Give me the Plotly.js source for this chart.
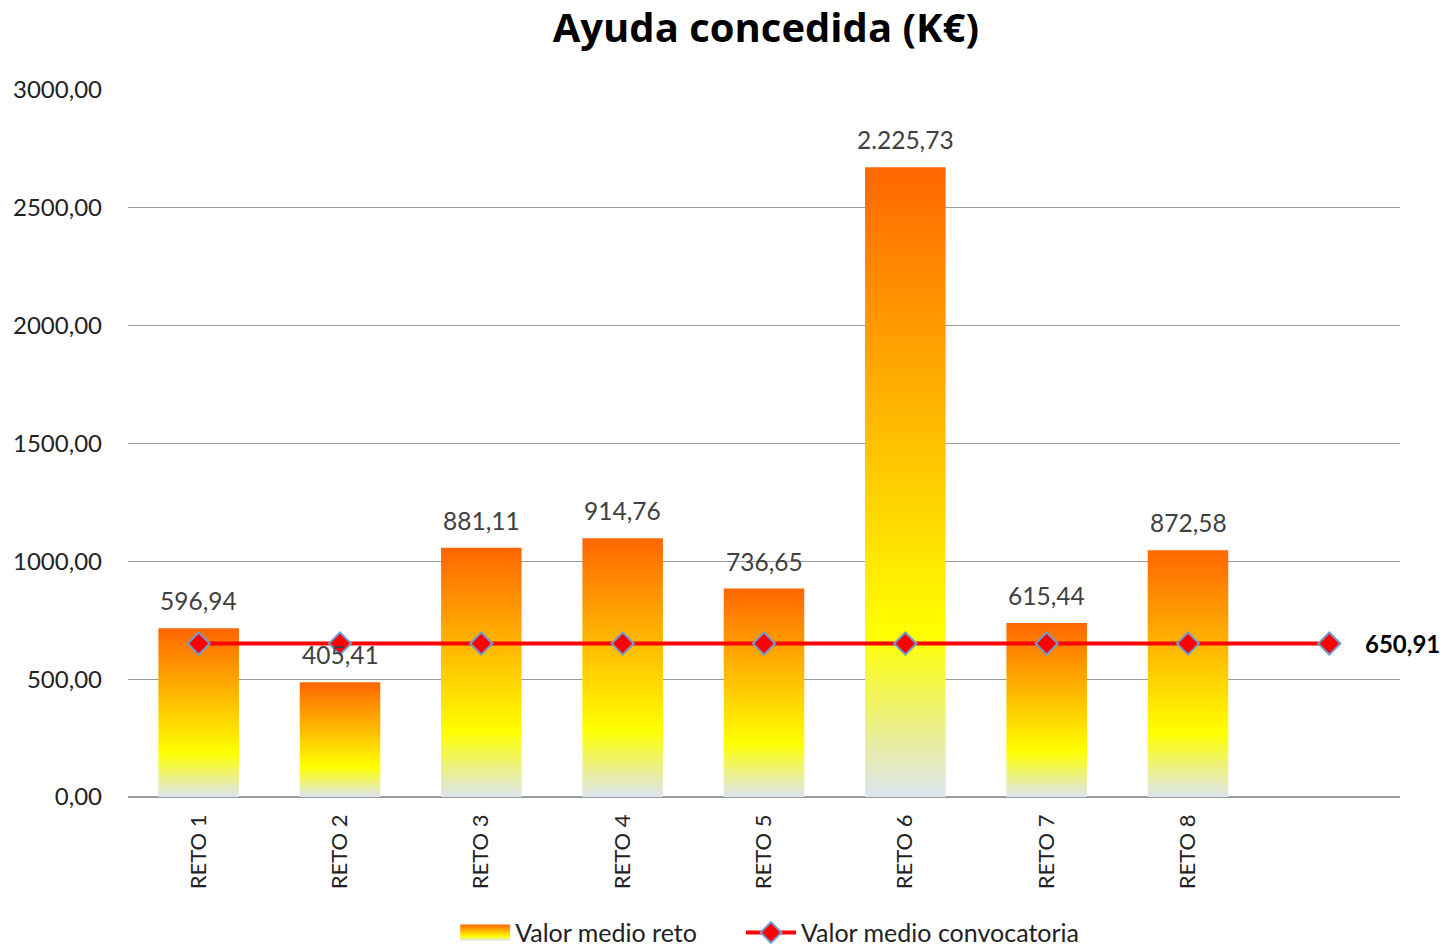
<!DOCTYPE html>
<html>
<head>
<meta charset="utf-8">
<script src="https://cdn.plot.ly/plotly-3.0.1.min.js"></script>
<style>
  html, body { margin: 0; padding: 0; background: #fff; }
  #chart { width: 1445px; height: 947px; }
</style>
</head>
<body>
<div id="chart"></div>
<script>
	"use strict";

	// categories (the 9th slot is empty, the average line runs into it)
	var categories = ['RETO 1', 'RETO 2', 'RETO 3', 'RETO 4', 'RETO 5', 'RETO 6', 'RETO 7', 'RETO 8', ' '];
	var barCategories = ['RETO 1', 'RETO 2', 'RETO 3', 'RETO 4', 'RETO 5', 'RETO 6', 'RETO 7', 'RETO 8'];
	// bar heights as drawn in the picture
	var barHeights = [716, 487, 1057, 1098, 884, 2671, 738, 1047];
	// labels printed above the bars
	var barLabels = ['596,94', '405,41', '881,11', '914,76', '736,65', '2.225,73', '615,44', '872,58'];
	// average of the call
	var avgValue = 650.91;
	var avgLabel = '650,91';
	var avgValues = categories.map(function () { return avgValue; });

	var yTicks = [0, 500, 1000, 1500, 2000, 2500, 3000];
	var yTickText = ['0,00', '500,00', '1000,00', '1500,00', '2000,00', '2500,00', '3000,00'];

	var labelFont = "Lato, 'Open Sans', sans-serif";

	var traces = [
		{
			type: 'bar',
			name: 'Valor medio reto',
			x: barCategories,
			y: barHeights,
			marker: { color: '#FF9900', line: { width: 0 } },
			hoverinfo: 'skip'
		},
		{
			type: 'scatter',
			mode: 'lines+markers',
			name: 'Valor medio convocatoria',
			legend: 'legend2',
			x: categories,
			y: avgValues,
			line: { color: '#FF0000', width: 4 },
			marker: { symbol: 'diamond', size: 17, color: '#FF0000', line: { color: '#6F9BD1', width: 2 } },
			hoverinfo: 'skip'
		}
	];

	var annotations = barCategories.map(function (c, i) {
		return {
			x: c, y: barHeights[i], xref: 'x', yref: 'y',
			text: barLabels[i], showarrow: false,
			yanchor: 'bottom', yshift: 11,
			font: { family: labelFont, size: 24.5, color: '#404040' }
		};
	});
	annotations.push({
		x: categories[8], y: avgValue, xref: 'x', yref: 'y',
		text: '<b>' + avgLabel + '</b>', showarrow: false,
		xanchor: 'left', xshift: 34,
		font: { family: labelFont, size: 24, color: '#000' }
	});

	var legendBase = {
		orientation: 'h',
		xref: 'container', xanchor: 'left',
		yref: 'container', y: 0.015, yanchor: 'middle',
		font: { family: labelFont, size: 25, color: '#222' },
		itemwidth: 50
	};

	var layout = {
		width: 1445,
		height: 947,
		margin: { l: 128, r: 45, t: 89, b: 150, autoexpand: false },
		paper_bgcolor: '#fff',
		plot_bgcolor: '#fff',
		title: {
			text: '<b>Ayuda concedida (K€)</b>',
			x: 0.53, xanchor: 'center',
			y: 0.97, yanchor: 'middle',
			font: { family: "'Open Sans', sans-serif", size: 40, color: '#000' }
		},
		bargap: 0.43,
		showlegend: true,
		legend: Object.assign({}, legendBase, { x: 0.315 }),
		legend2: Object.assign({}, legendBase, { x: 0.5128 }),
		xaxis: {
			type: 'category',
			categoryorder: 'array',
			categoryarray: categories,
			range: [-0.5, 8.5],
			tickangle: -90,
			tickfont: { family: labelFont, size: 22, color: '#222' },
			showgrid: false,
			showline: false,
			ticks: '',
			ticklen: 0,
			ticklabelstandoff: 12,
			automargin: false,
			zeroline: false
		},
		yaxis: {
			range: [0, 3003],
			tickvals: yTicks,
			ticktext: yTickText,
			tickfont: { family: labelFont, size: 24, color: '#222' },
			showgrid: true,
			gridcolor: '#9a9a9a',
			gridwidth: 1,
			zeroline: true,
			zerolinecolor: '#9a9a9a',
			zerolinewidth: 1.5,
			ticks: '',
			automargin: false,
			ticklabelstandoff: 25
		},
		annotations: annotations
	};

	var SVGNS = 'http://www.w3.org/2000/svg';

	function makeGradient(svg, id) {
		var defs = svg.querySelector('defs');
		if (!defs) {
			defs = document.createElementNS(SVGNS, 'defs');
			svg.insertBefore(defs, svg.firstChild);
		}
		if (defs.querySelector('#' + id)) return;
		var g = document.createElementNS(SVGNS, 'linearGradient');
		g.setAttribute('id', id);
		g.setAttribute('x1', '0'); g.setAttribute('y1', '0');
		g.setAttribute('x2', '0'); g.setAttribute('y2', '1');
		[['0', '#FF6600'], ['0.74', '#FFFF00'], ['1', '#DCE4EF']].forEach(function (s) {
			var st = document.createElementNS(SVGNS, 'stop');
			st.setAttribute('offset', s[0]);
			st.setAttribute('stop-color', s[1]);
			g.appendChild(st);
		});
		defs.appendChild(g);
	}

	function applyGradient() {
		var el = document.getElementById('chart');
		var svgs = el.querySelectorAll('svg.main-svg');
		svgs.forEach(function (svg, k) { makeGradient(svg, 'barGrad' + k); });
		el.querySelectorAll('.barlayer .point path').forEach(function (p) {
			p.style.fill = 'url(#barGrad0)';
		});
		// legend swatch of the bar trace
		var first = el.querySelector('.legend .traces');
		if (first) {
			first.querySelectorAll('.legendpoints path').forEach(function (p) {
				p.style.fill = 'url(#barGrad' + (svgs.length - 1) + ')';
				p.setAttribute('d', 'M-25,-8h50v16h-50Z');
			});
		}
	}

	var container = document.getElementById('chart');
	Plotly.newPlot(container, traces, layout, { staticPlot: true, displayModeBar: false }).then(function () {
		applyGradient();
		container.on && container.on('plotly_afterplot', applyGradient);
	});
</script>
</body>
</html>
